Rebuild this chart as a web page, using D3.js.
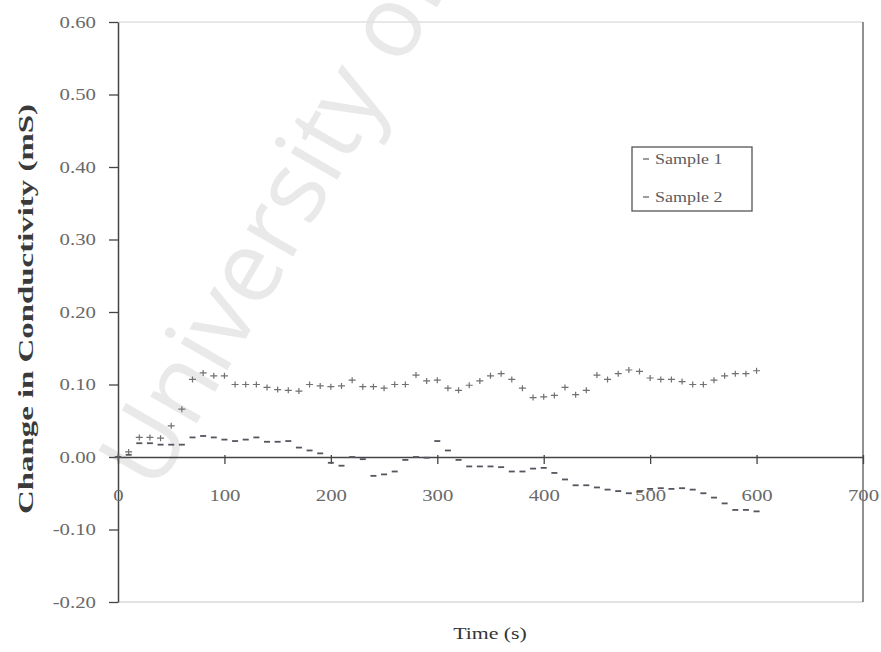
<!DOCTYPE html>
<html>
<head>
<meta charset="utf-8">
<script src="https://cdn.jsdelivr.net/npm/d3@7"></script>
<style>
  html, body { margin: 0; padding: 0; background: #ffffff; }
  svg { display: block; }
</style>
</head>
<body>
<div id="chart"></div>
<script>
// Time axis, seconds (one reading every 10 s)
const times = [0, 10, 20, 30, 40, 50, 60, 70, 80, 90, 100, 110, 120, 130, 140, 150, 160, 170, 180, 190,
  200, 210, 220, 230, 240, 250, 260, 270, 280, 290, 300, 310, 320, 330, 340, 350, 360, 370, 380, 390,
  400, 410, 420, 430, 440, 450, 460, 470, 480, 490, 500, 510, 520, 530, 540, 550, 560, 570, 580, 590, 600];

// Change in conductivity (mS)
const sample1 = [0.000, 0.007, 0.027, 0.027, 0.026, 0.043, 0.066, 0.107, 0.116, 0.112,
  0.112, 0.100, 0.100, 0.100, 0.096, 0.093, 0.092, 0.091, 0.100, 0.098,
  0.097, 0.098, 0.106, 0.097, 0.097, 0.095, 0.100, 0.100, 0.113, 0.105,
  0.106, 0.095, 0.092, 0.099, 0.105, 0.112, 0.115, 0.107, 0.095, 0.082,
  0.083, 0.085, 0.096, 0.086, 0.092, 0.113, 0.107, 0.115, 0.120, 0.118,
  0.109, 0.107, 0.107, 0.104, 0.100, 0.100, 0.106, 0.112, 0.115, 0.115, 0.119];

const sample2 = [0.000, 0.003, 0.019, 0.019, 0.017, 0.017, 0.017, 0.027, 0.029, 0.027,
  0.024, 0.022, 0.024, 0.027, 0.021, 0.021, 0.022, 0.013, 0.009, 0.005,
  -0.008, -0.012, 0.000, -0.003, -0.026, -0.024, -0.020, -0.004, 0.000, -0.001,
  0.022, 0.009, -0.004, -0.013, -0.013, -0.013, -0.014, -0.020, -0.020, -0.016,
  -0.015, -0.022, -0.031, -0.039, -0.039, -0.042, -0.045, -0.047, -0.050, -0.048,
  -0.044, -0.043, -0.044, -0.043, -0.045, -0.050, -0.056, -0.064, -0.073, -0.073, -0.075];

const seriesNames = ["Sample 1", "Sample 2"];

const xTicks = [0, 100, 200, 300, 400, 500, 600, 700];
const xTickLabels = ["0", "100", "200", "300", "400", "500", "600", "700"];
const yTicks = [-0.2, -0.1, 0.0, 0.1, 0.2, 0.3, 0.4, 0.5, 0.6];
const yTickLabels = ["-0.20", "-0.10", "0.00", "0.10", "0.20", "0.30", "0.40", "0.50", "0.60"];

const W = 881, H = 652;
const serif = "'Liberation Serif', 'DejaVu Serif', serif";

const svg = d3.select("#chart").append("svg")
  .attr("width", W).attr("height", H);

// scanned-page watermark, drawn behind everything
svg.append("text")
  .attr("transform", "translate(156,494) rotate(-60)")
  .style("font-family", "'Open Sans', 'DejaVu Sans', sans-serif")
  .style("font-size", "100px")
  .style("fill", "#e9e9e9")
  .text("University of Cape Town");

// plot region
const plot = { left: 118, right: 863, top: 22, bottom: 602 };

const x = d3.scaleLinear().domain([0, 700]).range([plot.left, plot.right]);
const y = d3.scaleLinear().domain([-0.2, 0.6]).range([plot.bottom, plot.top]);

// stretch text horizontally like the scan does
function stretch(sel, k) {
  sel.each(function () {
    const len = this.getComputedTextLength();
    d3.select(this).attr("textLength", len * k).attr("lengthAdjust", "spacingAndGlyphs");
  });
}

// faint top / bottom frame, darker right side
svg.append("line")
  .attr("x1", plot.left).attr("x2", plot.right)
  .attr("y1", plot.top).attr("y2", plot.top)
  .attr("stroke", "#e0e0e0").attr("stroke-width", 1.5);
svg.append("line")
  .attr("x1", plot.left).attr("x2", plot.right)
  .attr("y1", plot.bottom).attr("y2", plot.bottom)
  .attr("stroke", "#d8d8d8").attr("stroke-width", 1.5);
svg.append("line")
  .attr("x1", plot.right).attr("x2", plot.right)
  .attr("y1", plot.top).attr("y2", plot.bottom)
  .attr("stroke", "#555").attr("stroke-width", 1.3);

// Y axis
const yAxis = svg.append("g")
  .attr("transform", `translate(${plot.left},0)`)
  .call(d3.axisLeft(y)
    .tickValues(yTicks)
    .tickSize(9)
    .tickSizeOuter(0)
    .tickPadding(13)
    .tickFormat((d, i) => yTickLabels[i]));

yAxis.select(".domain").attr("stroke", "#444").attr("stroke-width", 1.5);
yAxis.selectAll(".tick line").attr("stroke", "#444").attr("stroke-width", 1.3);
yAxis.selectAll(".tick text")
  .style("font-family", serif)
  .style("font-size", "16px")
  .attr("fill", "#6a6a6a")
  .call(stretch, 1.3);

// X axis sits on the zero line
const xAxis = svg.append("g")
  .attr("transform", `translate(0,${y(0)})`)
  .call(d3.axisBottom(x)
    .tickValues(xTicks)
    .tickSize(7)
    .tickSizeOuter(0)
    .tickFormat((d, i) => xTickLabels[i]));

xAxis.select(".domain").attr("stroke", "#444").attr("stroke-width", 1.5);
xAxis.selectAll(".tick line").attr("y1", -2).attr("stroke", "#444").attr("stroke-width", 1.3);
xAxis.selectAll(".tick text")
  .attr("y", 44).attr("dy", 0)
  .style("font-family", serif)
  .style("font-size", "17px")
  .attr("fill", "#6a6a6a")
  .call(stretch, 1.22);

// markers
const plus = "M-3.5,0H3.5M0,-3V3";
const dash = "M-3,0H3";

svg.append("g")
  .selectAll("path")
  .data(times.map((t, i) => ({ t, v: sample1[i] })))
  .join("path")
  .attr("transform", d => `translate(${x(d.t)},${y(d.v)})`)
  .attr("d", plus)
  .attr("fill", "none")
  .attr("stroke", "#707070")
  .attr("stroke-width", 1.2);

svg.append("g")
  .selectAll("path")
  .data(times.map((t, i) => ({ t, v: sample2[i] })))
  .join("path")
  .attr("transform", d => `translate(${x(d.t)},${y(d.v)})`)
  .attr("d", dash)
  .attr("fill", "none")
  .attr("stroke", "#55555f")
  .attr("stroke-width", 1.8);

// axis titles
const xTitle = svg.append("text")
  .attr("x", 490).attr("y", 639)
  .attr("text-anchor", "middle")
  .style("font-family", serif)
  .style("font-size", "17px")
  .attr("fill", "#333")
  .text("Time (s)");
xTitle.call(stretch, 1.28);

const yTitle = svg.append("text")
  .attr("transform", "translate(33,309) rotate(-90)")
  .attr("text-anchor", "middle")
  .style("font-family", serif)
  .style("font-size", "22px")
  .style("font-weight", "bold")
  .attr("fill", "#3a3a3a")
  .text("Change in Conductivity (mS)");
yTitle.attr("textLength", 410).attr("lengthAdjust", "spacingAndGlyphs");

// legend
const legend = svg.append("g");
legend.append("rect")
  .attr("x", 632).attr("y", 147)
  .attr("width", 120).attr("height", 64)
  .attr("fill", "#fff")
  .attr("stroke", "#555").attr("stroke-width", 1.3);

const legendRows = legend.selectAll("g.row")
  .data(seriesNames)
  .join("g")
  .attr("class", "row")
  .attr("transform", (d, i) => `translate(0,${159 + i * 38})`);

legendRows.append("path")
  .attr("transform", "translate(646,0)")
  .attr("d", dash)
  .attr("stroke", "#666")
  .attr("stroke-width", 1.3);

legendRows.append("text")
  .attr("x", 655).attr("y", 0).attr("dy", "0.32em")
  .style("font-family", serif)
  .style("font-size", "15px")
  .attr("fill", "#5c5c5c")
  .text(d => d)
  .call(stretch, 1.2);
</script>
</body>
</html>
